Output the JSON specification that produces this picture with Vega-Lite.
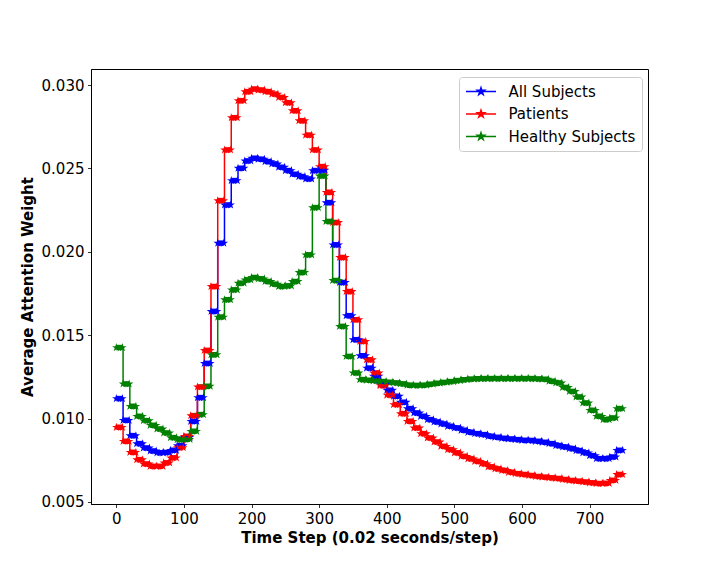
{
  "$schema": "https://vega.github.io/schema/vega-lite/v6.json",
  "width": 557,
  "height": 435,
  "autosize": "none",
  "padding": {"left": 91, "top": 69, "right": 72, "bottom": 72},
  "background": "white",
  "config": {
    "view": {"stroke": "black", "strokeWidth": 1},
    "axis": {"grid": false, "domainColor": "black", "tickColor": "black", "tickSize": 3.5, "tickWidth": 0.8, "labelFont": "DejaVu Sans", "labelFontSize": 15, "labelColor": "black", "titleFont": "DejaVu Sans", "titleFontSize": 15, "titleFontWeight": "bold", "titleColor": "black", "labelPadding": 3.5}
  },
  "data": {"values": [
{"s":"All Subjects","t":0,"t2":9,"v":0.01120},{"s":"All Subjects","t":10,"t2":19,"v":0.00990},{"s":"All Subjects","t":20,"t2":29,"v":0.00898},{"s":"All Subjects","t":30,"t2":39,"v":0.00850},{"s":"All Subjects","t":40,"t2":49,"v":0.00824},{"s":"All Subjects","t":50,"t2":59,"v":0.00806},{"s":"All Subjects","t":60,"t2":69,"v":0.00795},{"s":"All Subjects","t":70,"t2":79,"v":0.00797},{"s":"All Subjects","t":80,"t2":89,"v":0.00810},{"s":"All Subjects","t":90,"t2":99,"v":0.00838},
{"s":"All Subjects","t":100,"t2":109,"v":0.00888},{"s":"All Subjects","t":110,"t2":119,"v":0.00984},{"s":"All Subjects","t":120,"t2":129,"v":0.01126},{"s":"All Subjects","t":130,"t2":139,"v":0.01331},{"s":"All Subjects","t":140,"t2":149,"v":0.01643},{"s":"All Subjects","t":150,"t2":159,"v":0.02052},{"s":"All Subjects","t":160,"t2":169,"v":0.02281},{"s":"All Subjects","t":170,"t2":179,"v":0.02427},{"s":"All Subjects","t":180,"t2":189,"v":0.02501},{"s":"All Subjects","t":190,"t2":199,"v":0.02545},
{"s":"All Subjects","t":200,"t2":209,"v":0.02561},{"s":"All Subjects","t":210,"t2":219,"v":0.02555},{"s":"All Subjects","t":220,"t2":229,"v":0.02541},{"s":"All Subjects","t":230,"t2":239,"v":0.02527},{"s":"All Subjects","t":240,"t2":249,"v":0.02507},{"s":"All Subjects","t":250,"t2":259,"v":0.02487},{"s":"All Subjects","t":260,"t2":269,"v":0.02465},{"s":"All Subjects","t":270,"t2":279,"v":0.02451},{"s":"All Subjects","t":280,"t2":289,"v":0.02437},{"s":"All Subjects","t":290,"t2":299,"v":0.02487},
{"s":"All Subjects","t":300,"t2":309,"v":0.02490},{"s":"All Subjects","t":310,"t2":319,"v":0.02295},{"s":"All Subjects","t":320,"t2":329,"v":0.02042},{"s":"All Subjects","t":330,"t2":339,"v":0.01816},{"s":"All Subjects","t":340,"t2":349,"v":0.01617},{"s":"All Subjects","t":350,"t2":359,"v":0.01473},{"s":"All Subjects","t":360,"t2":369,"v":0.01377},{"s":"All Subjects","t":370,"t2":379,"v":0.01303},{"s":"All Subjects","t":380,"t2":389,"v":0.01255},{"s":"All Subjects","t":390,"t2":399,"v":0.01206},
{"s":"All Subjects","t":400,"t2":409,"v":0.01170},{"s":"All Subjects","t":410,"t2":419,"v":0.01134},{"s":"All Subjects","t":420,"t2":429,"v":0.01098},{"s":"All Subjects","t":430,"t2":439,"v":0.01060},{"s":"All Subjects","t":440,"t2":449,"v":0.01034},{"s":"All Subjects","t":450,"t2":459,"v":0.01014},{"s":"All Subjects","t":460,"t2":469,"v":0.00994},{"s":"All Subjects","t":470,"t2":479,"v":0.00980},{"s":"All Subjects","t":480,"t2":489,"v":0.00968},{"s":"All Subjects","t":490,"t2":499,"v":0.00954},
{"s":"All Subjects","t":500,"t2":509,"v":0.00944},{"s":"All Subjects","t":510,"t2":519,"v":0.00930},{"s":"All Subjects","t":520,"t2":529,"v":0.00918},{"s":"All Subjects","t":530,"t2":539,"v":0.00910},{"s":"All Subjects","t":540,"t2":549,"v":0.00904},{"s":"All Subjects","t":550,"t2":559,"v":0.00894},{"s":"All Subjects","t":560,"t2":569,"v":0.00888},{"s":"All Subjects","t":570,"t2":579,"v":0.00882},{"s":"All Subjects","t":580,"t2":589,"v":0.00878},{"s":"All Subjects","t":590,"t2":599,"v":0.00874},
{"s":"All Subjects","t":600,"t2":609,"v":0.00870},{"s":"All Subjects","t":610,"t2":619,"v":0.00869},{"s":"All Subjects","t":620,"t2":629,"v":0.00864},{"s":"All Subjects","t":630,"t2":639,"v":0.00858},{"s":"All Subjects","t":640,"t2":649,"v":0.00850},{"s":"All Subjects","t":650,"t2":659,"v":0.00838},{"s":"All Subjects","t":660,"t2":669,"v":0.00830},{"s":"All Subjects","t":670,"t2":679,"v":0.00820},{"s":"All Subjects","t":680,"t2":689,"v":0.00808},{"s":"All Subjects","t":690,"t2":699,"v":0.00795},
{"s":"All Subjects","t":700,"t2":709,"v":0.00778},{"s":"All Subjects","t":710,"t2":719,"v":0.00760},{"s":"All Subjects","t":720,"t2":729,"v":0.00760},{"s":"All Subjects","t":730,"t2":739,"v":0.00770},{"s":"All Subjects","t":740,"t2":749,"v":0.00810},
{"s":"Patients","t":0,"t2":9,"v":0.00948},{"s":"Patients","t":10,"t2":19,"v":0.00864},{"s":"Patients","t":20,"t2":29,"v":0.00798},{"s":"Patients","t":30,"t2":39,"v":0.00754},{"s":"Patients","t":40,"t2":49,"v":0.00728},{"s":"Patients","t":50,"t2":59,"v":0.00714},{"s":"Patients","t":60,"t2":69,"v":0.00714},{"s":"Patients","t":70,"t2":79,"v":0.00735},{"s":"Patients","t":80,"t2":89,"v":0.00765},{"s":"Patients","t":90,"t2":99,"v":0.00826},
{"s":"Patients","t":100,"t2":109,"v":0.00894},{"s":"Patients","t":110,"t2":119,"v":0.01018},{"s":"Patients","t":120,"t2":129,"v":0.01190},{"s":"Patients","t":130,"t2":139,"v":0.01409},{"s":"Patients","t":140,"t2":149,"v":0.01792},{"s":"Patients","t":150,"t2":159,"v":0.02307},{"s":"Patients","t":160,"t2":169,"v":0.02611},{"s":"Patients","t":170,"t2":179,"v":0.02804},{"s":"Patients","t":180,"t2":189,"v":0.02906},{"s":"Patients","t":190,"t2":199,"v":0.02960},
{"s":"Patients","t":200,"t2":209,"v":0.02976},{"s":"Patients","t":210,"t2":219,"v":0.02970},{"s":"Patients","t":220,"t2":229,"v":0.02960},{"s":"Patients","t":230,"t2":239,"v":0.02946},{"s":"Patients","t":240,"t2":249,"v":0.02926},{"s":"Patients","t":250,"t2":259,"v":0.02894},{"s":"Patients","t":260,"t2":269,"v":0.02846},{"s":"Patients","t":270,"t2":279,"v":0.02786},{"s":"Patients","t":280,"t2":289,"v":0.02700},{"s":"Patients","t":290,"t2":299,"v":0.02611},
{"s":"Patients","t":300,"t2":309,"v":0.02511},{"s":"Patients","t":310,"t2":319,"v":0.02357},{"s":"Patients","t":320,"t2":329,"v":0.02176},{"s":"Patients","t":330,"t2":339,"v":0.01966},{"s":"Patients","t":340,"t2":349,"v":0.01762},{"s":"Patients","t":350,"t2":359,"v":0.01593},{"s":"Patients","t":360,"t2":369,"v":0.01463},{"s":"Patients","t":370,"t2":379,"v":0.01353},{"s":"Patients","t":380,"t2":389,"v":0.01274},{"s":"Patients","t":390,"t2":399,"v":0.01198},
{"s":"Patients","t":400,"t2":409,"v":0.01141},{"s":"Patients","t":410,"t2":419,"v":0.01084},{"s":"Patients","t":420,"t2":429,"v":0.01030},{"s":"Patients","t":430,"t2":439,"v":0.00984},{"s":"Patients","t":440,"t2":449,"v":0.00944},{"s":"Patients","t":450,"t2":459,"v":0.00910},{"s":"Patients","t":460,"t2":469,"v":0.00884},{"s":"Patients","t":470,"t2":479,"v":0.00860},{"s":"Patients","t":480,"t2":489,"v":0.00834},{"s":"Patients","t":490,"t2":499,"v":0.00814},
{"s":"Patients","t":500,"t2":509,"v":0.00795},{"s":"Patients","t":510,"t2":519,"v":0.00774},{"s":"Patients","t":520,"t2":529,"v":0.00759},{"s":"Patients","t":530,"t2":539,"v":0.00744},{"s":"Patients","t":540,"t2":549,"v":0.00729},{"s":"Patients","t":550,"t2":559,"v":0.00711},{"s":"Patients","t":560,"t2":569,"v":0.00699},{"s":"Patients","t":570,"t2":579,"v":0.00689},{"s":"Patients","t":580,"t2":589,"v":0.00678},{"s":"Patients","t":590,"t2":599,"v":0.00670},
{"s":"Patients","t":600,"t2":609,"v":0.00665},{"s":"Patients","t":610,"t2":619,"v":0.00659},{"s":"Patients","t":620,"t2":629,"v":0.00653},{"s":"Patients","t":630,"t2":639,"v":0.00649},{"s":"Patients","t":640,"t2":649,"v":0.00645},{"s":"Patients","t":650,"t2":659,"v":0.00641},{"s":"Patients","t":660,"t2":669,"v":0.00635},{"s":"Patients","t":670,"t2":679,"v":0.00629},{"s":"Patients","t":680,"t2":689,"v":0.00625},{"s":"Patients","t":690,"t2":699,"v":0.00620},
{"s":"Patients","t":700,"t2":709,"v":0.00615},{"s":"Patients","t":710,"t2":719,"v":0.00611},{"s":"Patients","t":720,"t2":729,"v":0.00612},{"s":"Patients","t":730,"t2":739,"v":0.00630},{"s":"Patients","t":740,"t2":749,"v":0.00665},
{"s":"Healthy Subjects","t":0,"t2":9,"v":0.01426},{"s":"Healthy Subjects","t":10,"t2":19,"v":0.01208},{"s":"Healthy Subjects","t":20,"t2":29,"v":0.01074},{"s":"Healthy Subjects","t":30,"t2":39,"v":0.01014},{"s":"Healthy Subjects","t":40,"t2":49,"v":0.00988},{"s":"Healthy Subjects","t":50,"t2":59,"v":0.00960},{"s":"Healthy Subjects","t":60,"t2":69,"v":0.00938},{"s":"Healthy Subjects","t":70,"t2":79,"v":0.00914},{"s":"Healthy Subjects","t":80,"t2":89,"v":0.00886},{"s":"Healthy Subjects","t":90,"t2":99,"v":0.00874},
{"s":"Healthy Subjects","t":100,"t2":109,"v":0.00876},{"s":"Healthy Subjects","t":110,"t2":119,"v":0.00924},{"s":"Healthy Subjects","t":120,"t2":129,"v":0.01024},{"s":"Healthy Subjects","t":130,"t2":139,"v":0.01194},{"s":"Healthy Subjects","t":140,"t2":149,"v":0.01383},{"s":"Healthy Subjects","t":150,"t2":159,"v":0.01609},{"s":"Healthy Subjects","t":160,"t2":169,"v":0.01713},{"s":"Healthy Subjects","t":170,"t2":179,"v":0.01772},{"s":"Healthy Subjects","t":180,"t2":189,"v":0.01812},{"s":"Healthy Subjects","t":190,"t2":199,"v":0.01832},
{"s":"Healthy Subjects","t":200,"t2":209,"v":0.01846},{"s":"Healthy Subjects","t":210,"t2":219,"v":0.01838},{"s":"Healthy Subjects","t":220,"t2":229,"v":0.01822},{"s":"Healthy Subjects","t":230,"t2":239,"v":0.01806},{"s":"Healthy Subjects","t":240,"t2":249,"v":0.01792},{"s":"Healthy Subjects","t":250,"t2":259,"v":0.01796},{"s":"Healthy Subjects","t":260,"t2":269,"v":0.01822},{"s":"Healthy Subjects","t":270,"t2":279,"v":0.01876},{"s":"Healthy Subjects","t":280,"t2":289,"v":0.01982},{"s":"Healthy Subjects","t":290,"t2":299,"v":0.02265},
{"s":"Healthy Subjects","t":300,"t2":309,"v":0.02455},{"s":"Healthy Subjects","t":310,"t2":319,"v":0.02182},{"s":"Healthy Subjects","t":320,"t2":329,"v":0.01828},{"s":"Healthy Subjects","t":330,"t2":339,"v":0.01553},{"s":"Healthy Subjects","t":340,"t2":349,"v":0.01373},{"s":"Healthy Subjects","t":350,"t2":359,"v":0.01274},{"s":"Healthy Subjects","t":360,"t2":369,"v":0.01234},{"s":"Healthy Subjects","t":370,"t2":379,"v":0.01230},{"s":"Healthy Subjects","t":380,"t2":389,"v":0.01226},{"s":"Healthy Subjects","t":390,"t2":399,"v":0.01222},
{"s":"Healthy Subjects","t":400,"t2":409,"v":0.01218},{"s":"Healthy Subjects","t":410,"t2":419,"v":0.01214},{"s":"Healthy Subjects","t":420,"t2":429,"v":0.01208},{"s":"Healthy Subjects","t":430,"t2":439,"v":0.01200},{"s":"Healthy Subjects","t":440,"t2":449,"v":0.01199},{"s":"Healthy Subjects","t":450,"t2":459,"v":0.01200},{"s":"Healthy Subjects","t":460,"t2":469,"v":0.01206},{"s":"Healthy Subjects","t":470,"t2":479,"v":0.01212},{"s":"Healthy Subjects","t":480,"t2":489,"v":0.01217},{"s":"Healthy Subjects","t":490,"t2":499,"v":0.01222},
{"s":"Healthy Subjects","t":500,"t2":509,"v":0.01228},{"s":"Healthy Subjects","t":510,"t2":519,"v":0.01233},{"s":"Healthy Subjects","t":520,"t2":529,"v":0.01237},{"s":"Healthy Subjects","t":530,"t2":539,"v":0.01239},{"s":"Healthy Subjects","t":540,"t2":549,"v":0.01240},{"s":"Healthy Subjects","t":550,"t2":559,"v":0.01240},{"s":"Healthy Subjects","t":560,"t2":569,"v":0.01240},{"s":"Healthy Subjects","t":570,"t2":579,"v":0.01240},{"s":"Healthy Subjects","t":580,"t2":589,"v":0.01240},{"s":"Healthy Subjects","t":590,"t2":599,"v":0.01240},
{"s":"Healthy Subjects","t":600,"t2":609,"v":0.01240},{"s":"Healthy Subjects","t":610,"t2":619,"v":0.01240},{"s":"Healthy Subjects","t":620,"t2":629,"v":0.01238},{"s":"Healthy Subjects","t":630,"t2":639,"v":0.01236},{"s":"Healthy Subjects","t":640,"t2":649,"v":0.01224},{"s":"Healthy Subjects","t":650,"t2":659,"v":0.01214},{"s":"Healthy Subjects","t":660,"t2":669,"v":0.01187},{"s":"Healthy Subjects","t":670,"t2":679,"v":0.01163},{"s":"Healthy Subjects","t":680,"t2":689,"v":0.01130},{"s":"Healthy Subjects","t":690,"t2":699,"v":0.01094},
{"s":"Healthy Subjects","t":700,"t2":709,"v":0.01050},{"s":"Healthy Subjects","t":710,"t2":719,"v":0.01014},{"s":"Healthy Subjects","t":720,"t2":729,"v":0.00994},{"s":"Healthy Subjects","t":730,"t2":739,"v":0.01004},{"s":"Healthy Subjects","t":740,"t2":749,"v":0.01060}
  ]},
  "encoding": {
    "x": {"field": "t", "type": "quantitative", "scale": {"domain": [-37.45, 786.45], "nice": false, "zero": false}, "axis": {"values": [0,100,200,300,400,500,600,700], "title": "Time Step (0.02 seconds/step)", "titlePadding": 4}},
    "y": {"field": "v", "type": "quantitative", "scale": {"domain": [0.00488, 0.03096], "nice": false, "zero": false}, "axis": {"values": [0.005,0.010,0.015,0.020,0.025,0.030], "format": ".3f", "title": "Average Attention Weight", "titlePadding": 6}},
    "color": {"field": "s", "type": "nominal", "sort": null,
      "scale": {"domain": ["All Subjects", "Patients", "Healthy Subjects"], "range": ["#0000ff", "#ff0000", "#008000"]},
      "legend": {"title": null, "orient": "none", "legendX": 368, "legendY": 8,
        "symbolType": "M-2,0L2,0M0,-0.5L0.1123,-0.1545L0.4755,-0.1545L0.1817,0.059L0.2939,0.4045L0,0.191L-0.2939,0.4045L-0.1817,0.059L-0.4755,-0.1545L-0.1123,-0.1545Z",
        "symbolSize": 225, "symbolStrokeWidth": 1.5, "symbolOffset": 7.5, "labelOffset": 19,
        "labelFont": "DejaVu Sans", "labelFontSize": 15, "labelColor": "black",
        "padding": 6, "rowPadding": 5.5, "strokeColor": "#cccccc", "fillColor": "white", "cornerRadius": 3,
        "encode": {"symbols": {"update": {"fill": {"scale": "color", "field": "value"}, "stroke": {"scale": "color", "field": "value"}, "opacity": {"value": 1}}}}}
    }
  },
  "layer": [
    {"mark": {"type": "line", "interpolate": "step-after", "strokeWidth": 1.5}},
    {"mark": {"type": "rule", "strokeWidth": 5.5, "strokeCap": "butt"}, "encoding": {"x2": {"field": "t2"}}},
    {"mark": {"type": "point", "filled": true, "opacity": 1, "size": 80, "shape": "M0,-1L0.2245,-0.309L0.9511,-0.309L0.3633,0.118L0.5878,0.809L0,0.382L-0.5878,0.809L-0.3633,0.118L-0.9511,-0.309L-0.2245,-0.309Z"}},
    {"mark": {"type": "point", "filled": true, "opacity": 1, "size": 80, "shape": "M0,-1L0.2245,-0.309L0.9511,-0.309L0.3633,0.118L0.5878,0.809L0,0.382L-0.5878,0.809L-0.3633,0.118L-0.9511,-0.309L-0.2245,-0.309Z"}, "encoding": {"x": {"field": "t2", "type": "quantitative"}}}
  ]
}
